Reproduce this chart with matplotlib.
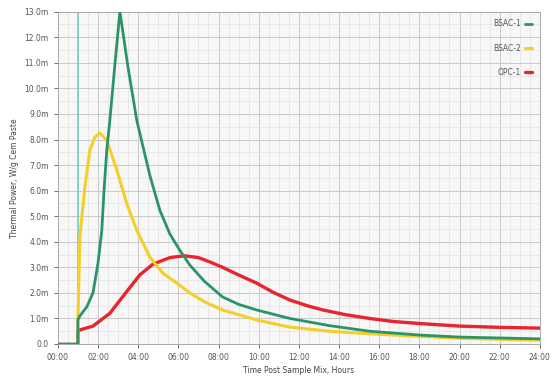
import matplotlib
matplotlib.use("Agg")
import matplotlib.pyplot as plt
from matplotlib.ticker import AutoMinorLocator, FuncFormatter

# Time (hours) and thermal power (mW/g, shown with "m" suffix)
t_bsac1 = [0.0, 1.0, 1.0, 1.1, 1.44, 1.75, 2.0, 2.19, 2.3, 2.44, 2.59, 2.85, 3.09,
           3.5, 3.93, 4.58, 5.08, 5.58, 6.07, 6.57, 7.3, 8.2, 9.0, 9.9, 11.55,
           13.5, 15.5, 18.0, 20.0, 24.0]
p_bsac1 = [0.0, 0.0, 0.95, 1.1, 1.45, 2.0, 3.16, 4.45, 6.0, 7.6, 8.75, 11.0, 13.0,
           10.8, 8.75, 6.6, 5.23, 4.3, 3.67, 3.09, 2.45, 1.84, 1.55, 1.33, 1.0,
           0.72, 0.5, 0.35, 0.27, 0.2]

t_bsac2 = [1.0, 1.0, 1.1, 1.34, 1.6, 1.85, 2.09, 2.44, 2.94, 3.43, 3.93, 4.58,
           5.23, 6.07, 6.57, 7.3, 8.2, 9.9, 11.55, 13.5, 15.5, 18.0, 20.0, 24.0]
p_bsac2 = [0.0, 0.9, 4.2, 6.1, 7.6, 8.1, 8.25, 7.97, 6.8, 5.5, 4.45, 3.4,
           2.77, 2.3, 2.0, 1.65, 1.33, 0.94, 0.66, 0.5, 0.4, 0.3, 0.22, 0.15]

t_opc1 = [1.0, 1.0, 1.1, 1.75, 2.59, 3.43, 4.08, 4.73, 5.58, 6.3, 7.0, 7.6, 8.2,
          9.0, 9.9, 10.7, 11.55, 12.4, 13.2, 14.3, 15.5, 16.7, 18.0, 20.0, 22.0, 24.0]
p_opc1 = [0.0, 0.47, 0.55, 0.7, 1.2, 2.05, 2.7, 3.12, 3.38, 3.45, 3.38, 3.2, 3.0,
          2.7, 2.38, 2.03, 1.72, 1.5, 1.33, 1.15, 1.0, 0.88, 0.8, 0.7, 0.65, 0.62]

marker_time = 1.0
series_names = ["BSAC-1", "BSAC-2", "OPC-1"]
x_ticks = list(range(0, 25, 2))
y_ticks = list(range(0, 14))

fig = plt.figure(figsize=(5.56, 3.9), dpi=100)
ax = fig.add_axes([0.104, 0.118, 0.867, 0.852])
ax.set_facecolor("#f7f7f7")

ax.axvline(marker_time, color="#6fcfc0", lw=1.2, zorder=2)

kw = dict(solid_joinstyle="round", solid_capstyle="round")
ax.plot(t_opc1, p_opc1, color="#e8252f", lw=2.4, label=series_names[2], zorder=3, **kw)
ax.plot(t_bsac2, p_bsac2, color="#f4cf2a", lw=2.2, label=series_names[1], zorder=4, **kw)
ax.plot(t_bsac1, p_bsac1, color="#2a9468", lw=2.0, label=series_names[0], zorder=5, **kw)

ax.set_xlim(0, 24)
ax.set_ylim(0, 13)
ax.set_xticks(x_ticks)
ax.set_yticks(y_ticks)
ax.xaxis.set_minor_locator(AutoMinorLocator(4))
ax.yaxis.set_minor_locator(AutoMinorLocator(2))
ax.xaxis.set_major_formatter(FuncFormatter(lambda v, p: f"{int(v):02d}:00"))
ax.yaxis.set_major_formatter(FuncFormatter(lambda v, p: "0.0" if v == 0 else f"{v:.1f}m"))

ax.grid(which="major", color="#c8c8c8", lw=0.7)
ax.grid(which="minor", color="#e2e2e2", lw=0.5)
ax.set_axisbelow(True)
ax.tick_params(axis="both", which="major", labelsize=5.5, colors="#555555", length=3, width=0.6)
ax.tick_params(axis="both", which="minor", length=0)
for sp in ax.spines.values():
    sp.set_color("#aaaaaa")
    sp.set_linewidth(0.7)

ax.set_xlabel("Time Post Sample Mix, Hours", fontsize=5.5, color="#444444", labelpad=3)
ax.set_ylabel("Thermal Power, W/g Cem Paste", fontsize=5.5, color="#444444", labelpad=4)

handles, labels = ax.get_legend_handles_labels()
order = [2, 1, 0]
leg = ax.legend([handles[i] for i in order], [labels[i] for i in order],
                loc="upper right", frameon=False, markerfirst=False,
                fontsize=5.5, handlelength=1.0, handletextpad=0.5,
                labelspacing=2.0, borderaxespad=0.6)
for txt in leg.get_texts():
    txt.set_color("#555555")

fig.savefig("out.png", dpi=100, facecolor="white")
